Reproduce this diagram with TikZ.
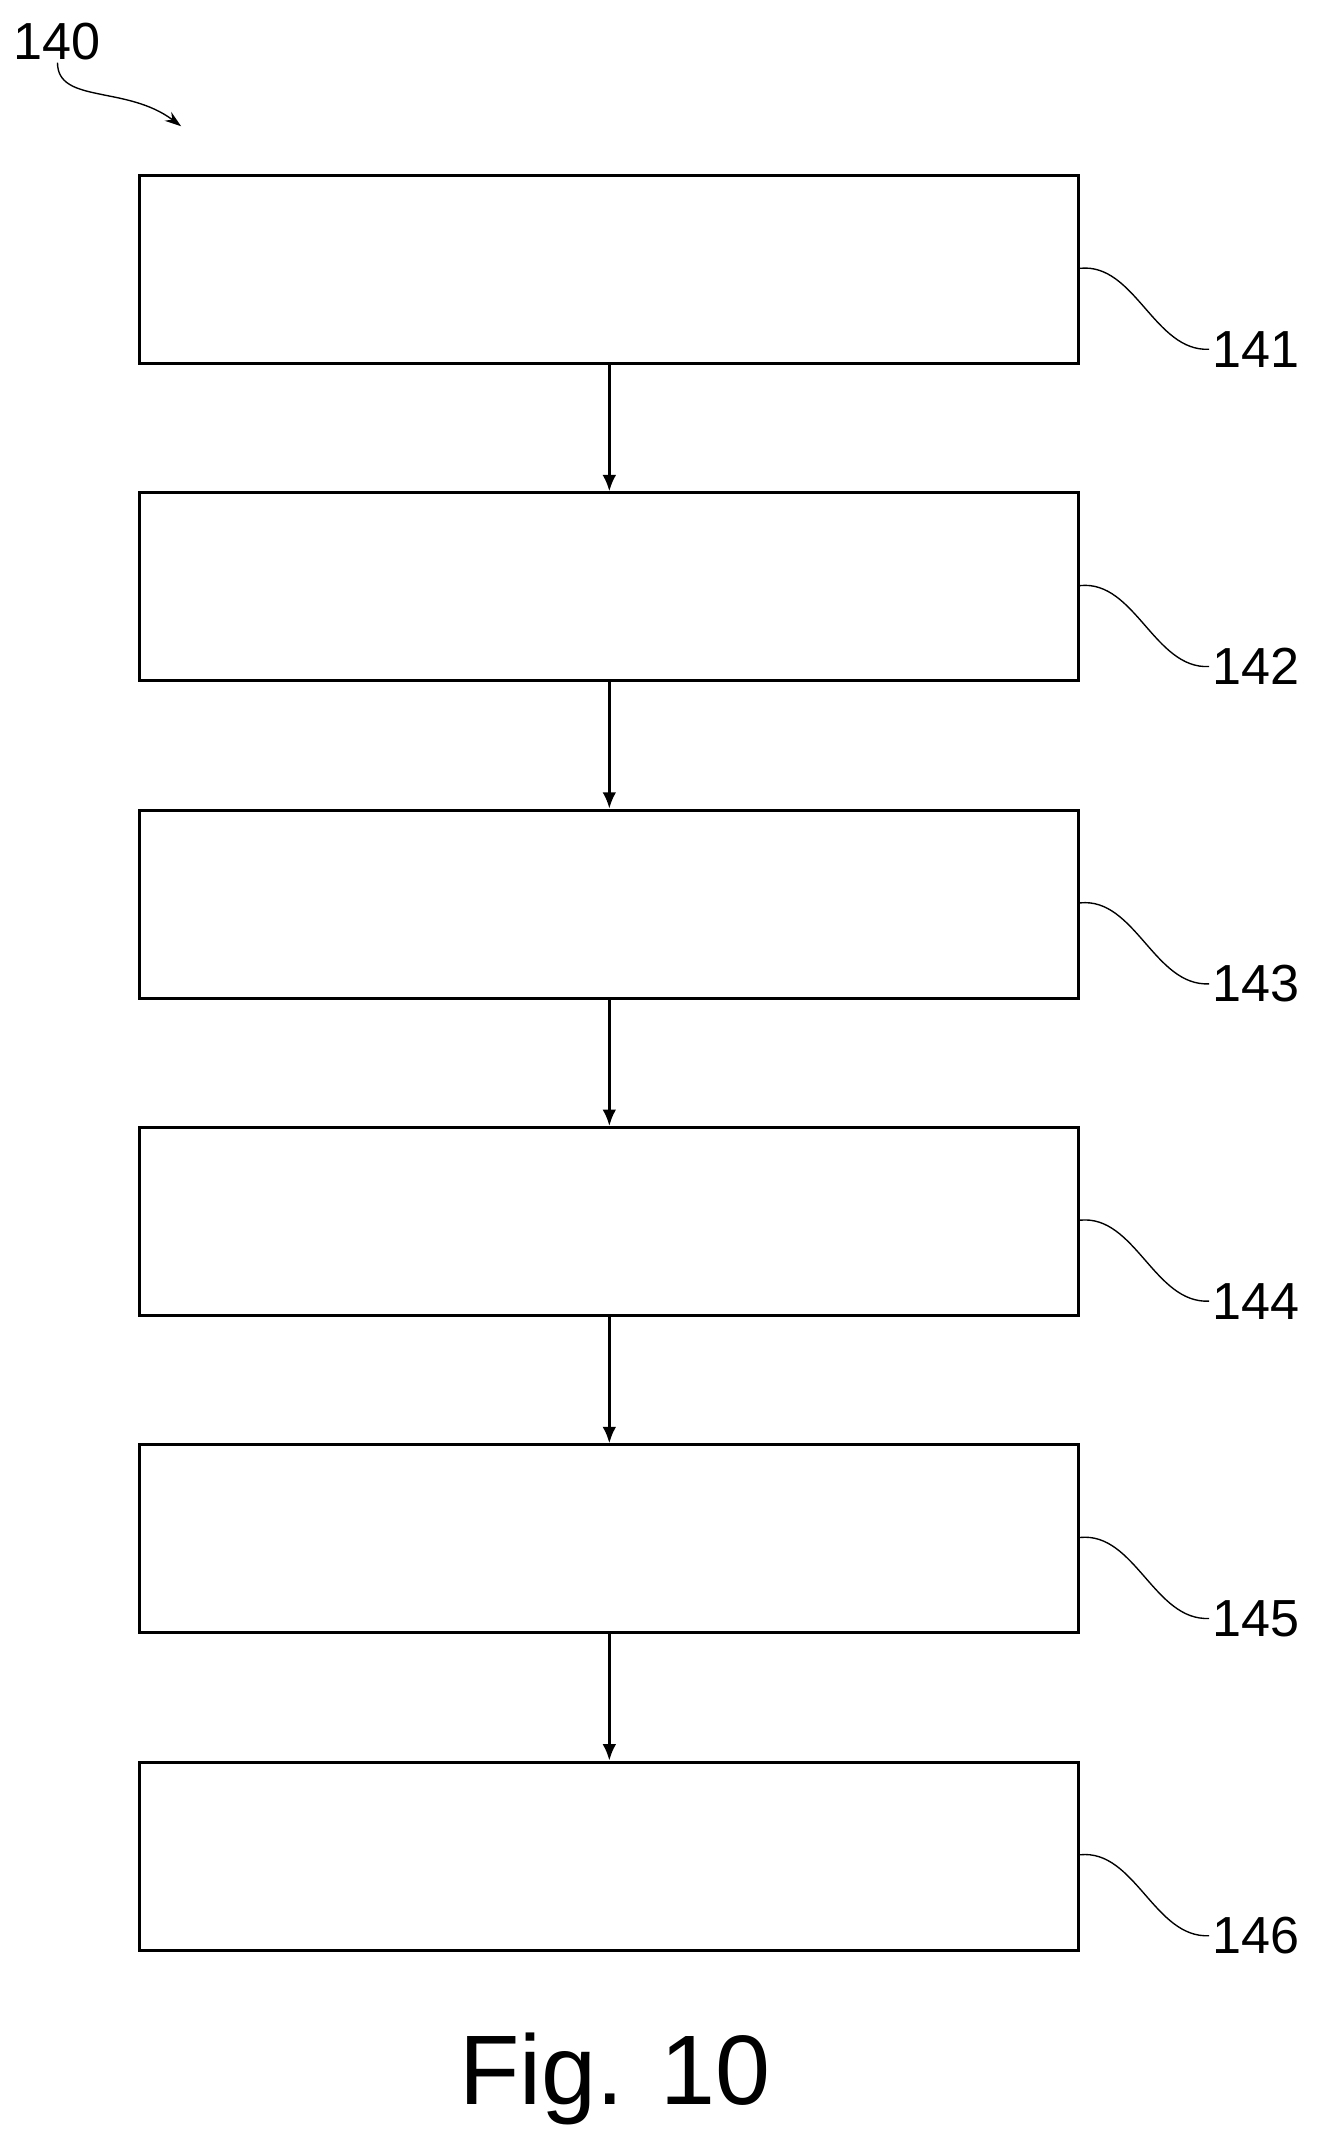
\documentclass[tikz,border=0pt]{standalone}
\usepackage{fontspec}
\setmainfont{Liberation Sans}
\usetikzlibrary{arrows.meta,positioning}
\tikzset{
    stepbox/.style={
        draw,
        rectangle,
        line width=2.2pt,
        minimum width=684pt,
        minimum height=137pt,
        inner sep=0pt
    },
    arrow/.style={
        -{Latex[length=12pt,width=10pt]},
        line width=2pt
    },
    leader/.style={
        line width=1pt
    },
    reflabel/.style={
        font=\fontsize{38}{40}\selectfont,
        anchor=west,
        inner sep=2pt
    }
}
\begin{document}
\begin{tikzpicture}[x=1pt,y=-1pt]
    \useasboundingbox (0,0) rectangle (960,1563);
    % Steps
    \node[stepbox] (s1) at (444,196.5) {};
    \node[stepbox, below=92pt of s1] (s2) {};
    \node[stepbox, below=92pt of s2] (s3) {};
    \node[stepbox, below=92pt of s3] (s4) {};
    \node[stepbox, below=92pt of s4] (s5) {};
    \node[stepbox, below=92pt of s5] (s6) {};

    % Connections
    \foreach \a/\b in {s1/s2,s2/s3,s3/s4,s4/s5,s5/s6}
        \draw[arrow] (\a.south) -- (\b.north);

    % Reference numbers
    \foreach \s/\n in {s1/141,s2/142,s3/143,s4/144,s5/145,s6/146} {
        \node[reflabel] (l\n) at ([xshift=94pt,yshift=-58pt]\s.east) {\n};
        \draw[leader] ([yshift=1pt]\s.east) .. controls +(40,-4) and +(-40,2) .. (l\n.west);
    }

    % Figure number
    \node[reflabel] (fig) at (8,30) {140};
    \coordinate (figtip) at (132,92);
    \draw[leader,-{Stealth[length=12pt,width=8pt]}] (fig.south) .. controls +(0,30) and +(-40,-30) .. (figtip);
    \node[font=\fontsize{72}{76}\selectfont] (title) at (448,1515) {Fig. 10};
\end{tikzpicture}
\end{document}
